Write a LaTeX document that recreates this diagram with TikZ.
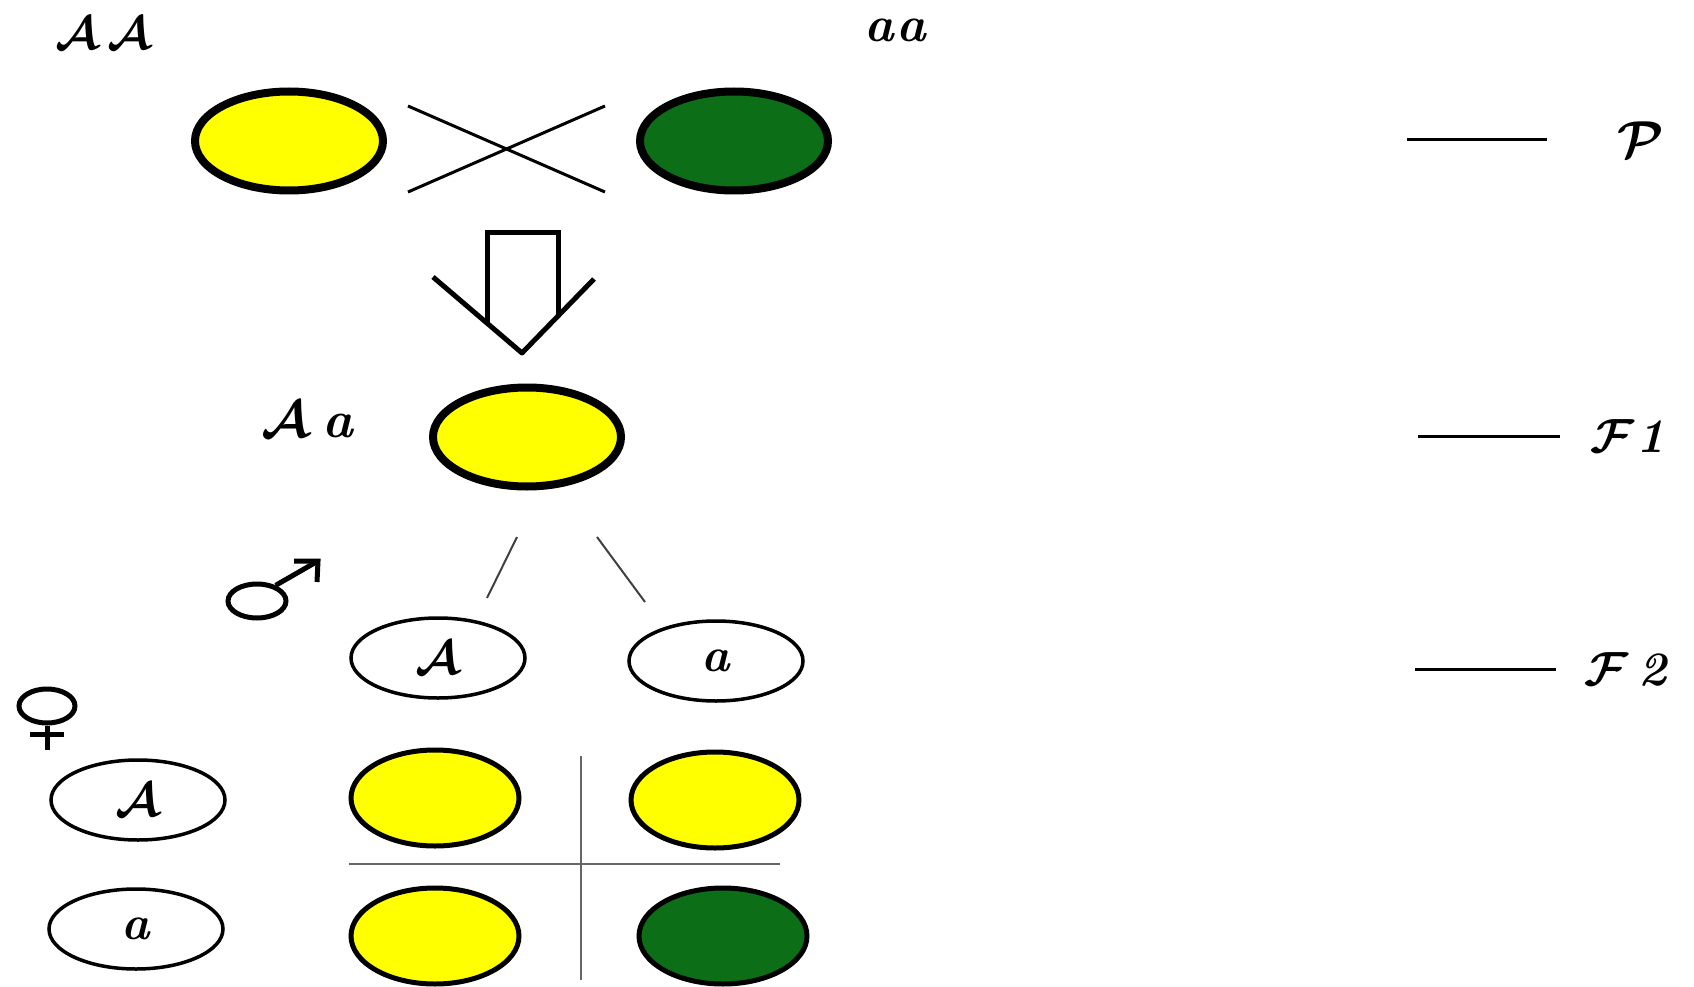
\RequirePackage{fix-cm}
\documentclass[tikz,border=0pt]{standalone}
\usetikzlibrary{shapes.geometric}
\definecolor{peaY}{RGB}{255,255,0}
\definecolor{peaG}{RGB}{12,110,22}
\newcommand{\scrl}[1]{{\boldmath$\mathcal{#1}$}}
\newcommand{\bi}[1]{\textbf{\textit{#1}}}
\tikzset{
  pea/.style={ellipse, draw=black, inner sep=0pt},
  bigpea/.style={pea, line width=8pt, minimum width=188pt, minimum height=99pt},
  cellpea/.style={pea, line width=5pt, minimum width=168pt, minimum height=96pt},
  gamete/.style={pea, fill=white, line width=3.5pt, minimum width=174pt, minimum height=80pt,
     font=\fontsize{48}{48}\selectfont},
  lbl/.style={inner sep=0pt, font=\fontsize{48}{48}\selectfont},
  rule/.style={line width=3pt},
  thin/.style={line width=2pt, draw=black!75},
  grid/.style={line width=2.5pt, draw=black!60},
  sym/.style={line width=5pt, line cap=butt}
}
\begin{document}
\begin{tikzpicture}[x=1pt,y=-1pt]
\useasboundingbox (0,0) rectangle (1694,987);

% Parents
\node[lbl, font=\fontsize{47}{47}\selectfont] (tAA) at (103,33) {\scrl{A}\kern9pt\scrl{A}};
\node[lbl, font=\fontsize{50}{50}\selectfont] (taa) at (896,30) {\bi{a\kern3pt a}};
\node[bigpea, fill=peaY] (p1) at (289,141) {};
\node[bigpea, fill=peaG] (p2) at (734,141) {};
\coordinate (x1) at (408,106);
\coordinate (x2) at (605,192);
\coordinate (x3) at (408,192);
\coordinate (x4) at (605,106);
\draw[rule] (x1) -- (x2);
\draw[rule] (x3) -- (x4);

% Hollow down arrow
\coordinate (aL) at (433,277);
\coordinate (aT) at (522,353);
\coordinate (aR) at (594,279);
\coordinate (sL) at (487,323);
\coordinate (sR) at (558,315.5);
\draw[line width=5pt, line join=miter] (sL) -- (487,232) -- (558,232) -- (sR);
\draw[line width=5pt, line join=round] (aL) -- (aT) -- (aR);

% F1
\node[lbl, font=\fontsize{52}{52}\selectfont] (tAa) at (308,420) {\scrl{A}\kern14pt\bi{a}};
\node[bigpea, fill=peaY] (f1) at (527,437) {};

% split lines
\coordinate (s1a) at (517,537);
\coordinate (s1b) at (487,598);
\coordinate (s2a) at (597,537);
\coordinate (s2b) at (645,602);
\draw[thin] (s1a) -- (s1b);
\draw[thin] (s2a) -- (s2b);

% male symbol
\node[ellipse, draw, line width=5pt, minimum width=58pt, minimum height=34pt, inner sep=0pt] (male) at (257,601) {};
\coordinate (mtip) at (318,561);
\draw[sym] (male.40) -- (mtip);
\draw[sym, line join=miter] (294,561) -- (mtip) -- (317,582);

% male gametes
\node[gamete] (gA) at (438,658) {\scrl{A}};
\node[gamete] (ga) at (716,661) {\bi{a}};

% female symbol
\node[ellipse, draw, line width=5pt, minimum width=56pt, minimum height=34pt, inner sep=0pt] (female) at (47,706) {};
\coordinate (fbot) at (47,750);
\draw[sym] (female.south) -- (fbot);
\draw[sym] (30,734) -- (64,734);

% female gametes
\node[gamete] (fA) at (138,800) {\scrl{A}};
\node[gamete] (fa) at (136,929) {\bi{a}};

% Punnett grid
\coordinate (vT) at (581,756);
\coordinate (vB) at (581,980);
\coordinate (hL) at (349,864);
\coordinate (hR) at (780,864);
\draw[grid] (vT) -- (vB);
\draw[grid] (hL) -- (hR);
\node[cellpea, fill=peaY] (c11) at (435,798) {};
\node[cellpea, fill=peaY] (c12) at (715,800) {};
\node[cellpea, fill=peaY] (c21) at (435,936) {};
\node[cellpea, fill=peaG] (c22) at (723,936) {};

% generation labels
\coordinate (lP1) at (1407,140);
\coordinate (lP2) at (1547,140);
\draw[rule] (lP1) -- (lP2);
\node[lbl, font=\fontsize{52}{52}\selectfont] (tP) at (1641,140) {\scrl{P}};
\coordinate (lF1a) at (1418,436);
\coordinate (lF1b) at (1560,436);
\draw[rule] (lF1a) -- (lF1b);
\node[lbl] (tF1) at (1628,436) {\scrl{F}\kern2pt\bi{1}};
\coordinate (lF2a) at (1415,669);
\coordinate (lF2b) at (1556,669);
\draw[rule] (lF2a) -- (lF2b);
\node[lbl] (tF2) at (1626,669) {\scrl{F}\kern10pt\bi{2}};
\end{tikzpicture}
\end{document}
